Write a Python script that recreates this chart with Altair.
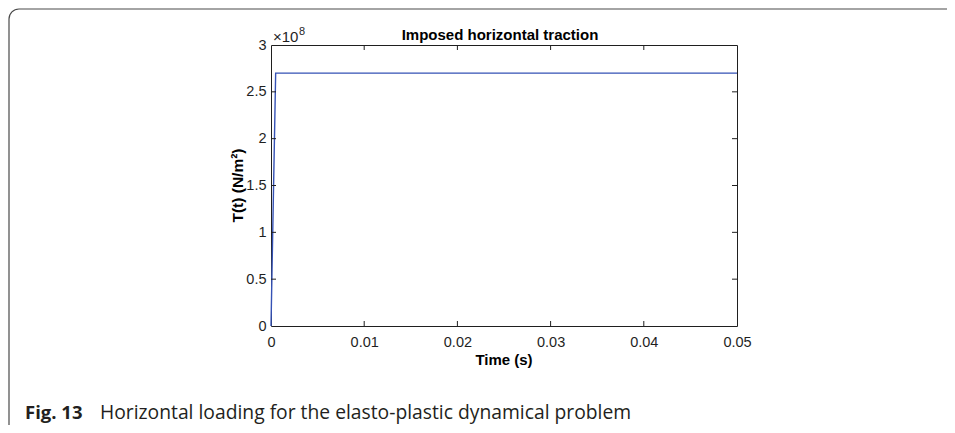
import altair as alt
import pandas as pd

# ---- data ----
time_s = [0.0, 0.0005, 0.05]
traction = [0.0, 2.7e8, 2.7e8]
x_ticks = [0, 0.01, 0.02, 0.03, 0.04, 0.05]
y_ticks = [0, 0.5e8, 1e8, 1.5e8, 2e8, 2.5e8, 3e8]
title_text = "Imposed horizontal traction"
x_title = "Time (s)"
y_title = "T(t) (N/m²)"
caption_bold = "Fig. 13"
caption_text = "Horizontal loading for the elasto-plastic dynamical problem"

W, H = 466, 281
AX = "#1f1f1f"
FONT = "Liberation Sans"

df = pd.DataFrame({"t": time_s, "T": traction})
xs = alt.Scale(domain=[0, 0.05], nice=False, zero=False)
ys = alt.Scale(domain=[0, 3e8], nice=False)

x_axis = alt.Axis(values=x_ticks, labelExpr="format(datum.value, '~g')", title=None,
                  ticks=False, tickSize=0, domain=False, grid=False, labelPadding=9,
                  labelFlush=False, labelFont=FONT, labelFontSize=14.5, labelColor=AX)
y_axis = alt.Axis(values=y_ticks, labelExpr="format(datum.value / 1e8, '~g')", title=None,
                  ticks=False, tickSize=0, domain=False, grid=False, labelPadding=5,
                  labelFlush=False, labelFont=FONT, labelFontSize=14.5, labelColor=AX)

line = alt.Chart(df).mark_line(color="#3552b5", strokeWidth=1.4).encode(
    x=alt.X("t:Q", scale=xs, axis=x_axis),
    y=alt.Y("T:Q", scale=ys, axis=y_axis),
)

xt = alt.Chart(pd.DataFrame({"t": x_ticks[1:-1]}))
yt = alt.Chart(pd.DataFrame({"T": y_ticks[1:-1]}))
tick_style = dict(color=AX, strokeWidth=1)
xt_bottom = xt.mark_rule(**tick_style).encode(
    x=alt.X("t:Q", scale=xs, axis=x_axis), y=alt.value(H), y2=alt.value(H - 5))
xt_top = xt.mark_rule(**tick_style).encode(
    x=alt.X("t:Q", scale=xs, axis=x_axis), y=alt.value(0), y2=alt.value(5))
yt_left = yt.mark_rule(**tick_style).encode(
    y=alt.Y("T:Q", scale=ys, axis=y_axis), x=alt.value(0), x2=alt.value(5))
yt_right = yt.mark_rule(**tick_style).encode(
    y=alt.Y("T:Q", scale=ys, axis=y_axis), x=alt.value(W - 5), x2=alt.value(W))

one = alt.Data(values=[{}])

frame = alt.Chart(one).mark_rect(
    fill="white", fillOpacity=0, stroke="#4a4a4a", strokeWidth=1.2, cornerRadius=10
).encode(x=alt.value(-262), x2=alt.value(720), y=alt.value(-36), y2=alt.value(400))

def txt(text, x, y, size, weight="normal", font=FONT, angle=0, align="center", color=AX):
    return alt.Chart(one).mark_text(
        text=text, fontSize=size, fontWeight=weight, font=font, angle=angle,
        align=align, baseline="alphabetic", color=color
    ).encode(x=alt.value(x), y=alt.value(y))

title = txt(title_text, W / 2 - 4, -5, 15, "bold", color="#000000")
xlab = txt(x_title, W / 2, 39 + H, 15, "bold", color="#000000")
ylab = txt(y_title, -28, H / 2, 15.5, "bold", angle=270, color="#000000")
exp_base = txt("×10", 2, -3, 15, align="left")
exp_sup = txt("8", 28, -10, 11, align="left")
cap1 = txt(caption_bold, -246, 374, 18.5, "bold", font="Open Sans", align="left", color="#231f20")
cap2 = txt(caption_text, -171, 374, 19.3, font="Open Sans", align="left", color="#231f20")

chart = alt.layer(
    frame, line, xt_bottom, xt_top, yt_left, yt_right,
    title, xlab, ylab, exp_base, exp_sup, cap1, cap2
).properties(
    width=W, height=H,
    autosize=alt.AutoSizeParams(type="none"),
    padding={"left": 263, "top": 37, "right": 210, "bottom": 99},
    background="white",
).configure_view(stroke=AX, strokeWidth=1)

chart.save("out.html", embed_options={"renderer": "svg", "actions": False})
